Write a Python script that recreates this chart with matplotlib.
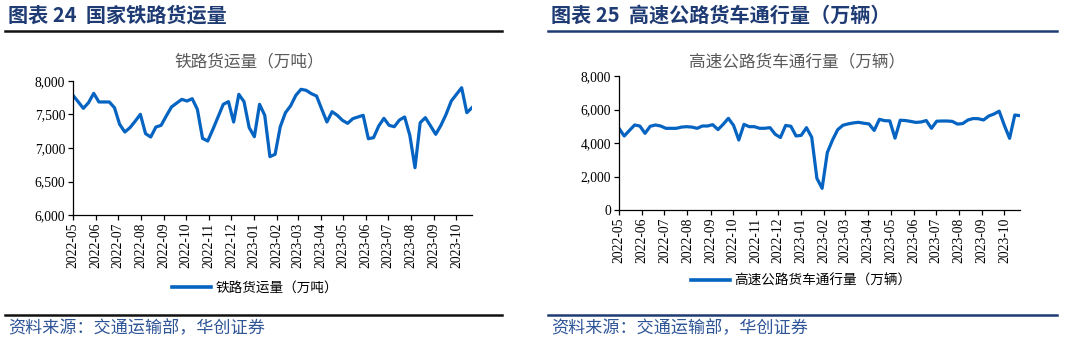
import matplotlib
matplotlib.use("Agg")
import matplotlib.pyplot as plt
from matplotlib.lines import Line2D
import pandas as pd

plt.rcParams['font.family'] = ['Noto Sans CJK SC', 'DejaVu Sans']

# weekly observations, first one dated 2022-05-06
dates = pd.date_range("2022-05-06", periods=78, freq="7D")
month_ticks = pd.date_range("2022-05-06", periods=18, freq=pd.DateOffset(months=1))

rail = [7786, 7690, 7592, 7677, 7816, 7687, 7687, 7687, 7602, 7353,
        7239, 7304, 7400, 7503, 7214, 7164, 7313, 7338, 7478, 7612,
        7670, 7726, 7701, 7736, 7577, 7144, 7104, 7279, 7465, 7652,
        7692, 7388, 7801, 7692, 7304, 7169, 7652, 7488, 6871, 6906,
        7318, 7527, 7630, 7786, 7876, 7861, 7811, 7776, 7580, 7388,
        7542, 7488, 7413, 7368, 7438, 7463, 7488, 7139, 7154, 7328,
        7443, 7338, 7318, 7418, 7463, 7189, 6706, 7378, 7453, 7330,
        7204, 7338, 7503, 7701, 7801, 7900, 7527, 7602]

truck = [4876, 4418, 4750, 5075, 5015, 4577, 5000, 5075, 5015, 4876,
         4876, 4876, 4950, 4975, 4950, 4876, 5015, 5015, 5094, 4800,
         5114, 5473, 5050, 4179, 5114, 4975, 4975, 4876, 4880, 4915,
         4520, 4330, 5050, 5000, 4418, 4460, 4915, 4350, 1890, 1294,
         3430, 4179, 4796, 5060, 5140, 5200, 5234, 5180, 5140, 4750,
         5413, 5333, 5320, 4290, 5360, 5340, 5290, 5230, 5254, 5340,
         4876, 5300, 5313, 5313, 5290, 5130, 5160, 5373, 5460, 5450,
         5373, 5612, 5731, 5900, 5050, 4278, 5671, 5632]

W, H = 1066, 342
BLUE = "#0563C1"
NAVY = "#1F3B73"
SERIF = "Liberation Serif"


def fx(px):
    return px / W


def fy(py):
    return 1 - py / H


fig = plt.figure(figsize=(W / 100, H / 100), dpi=100)
fig.patch.set_facecolor("white")


def panel(x0, x1, y_top, y_bot, values, ylim, yticks, inner_title, inner_x, legend_label,
          title, rule_color, rx0, rx1, legend_xy):
    ax = fig.add_axes([fx(x0), fy(y_bot), fx(x1 - x0), (y_bot - y_top) / H])
    ax.plot(dates, values, color=BLUE, lw=2.3, solid_joinstyle="round")
    ax.set_xlim(dates[0], dates[-1])
    ax.set_ylim(*ylim)
    ax.set_yticks(yticks)
    ax.set_yticklabels([f"{v:,}" for v in yticks], fontfamily=SERIF, fontsize=9.8)
    ax.set_xticks(month_ticks)
    ax.set_xticklabels([d.strftime("%Y-%m") for d in month_ticks], rotation=90,
                       fontfamily=SERIF, fontsize=9.8)
    for s in ("top", "right"):
        ax.spines[s].set_visible(False)
    for s in ("left", "bottom"):
        ax.spines[s].set_linewidth(0.9)
    ax.tick_params(axis="both", direction="out", length=3.5, width=0.9, pad=2)

    fig.text(fx(inner_x), fy(62), inner_title, ha="center", va="center",
             fontsize=12, color="#595959")
    handles = [Line2D([0], [0], color=BLUE, lw=2.6)]
    fig.legend(handles, [legend_label], loc="center",
               bbox_to_anchor=(fx(legend_xy[0]), fy(legend_xy[1])), frameon=False,
               fontsize=9.8, handlelength=2.9, handletextpad=0.3)

    # header and footer
    fig.text(fx(rx0 + 3), fy(15), title, ha="left", va="center", fontsize=14.5,
             fontweight="bold", color=NAVY)
    fig.add_artist(Line2D([fx(rx0), fx(rx1)], [fy(31), fy(31)], color=rule_color, lw=1.8))
    fig.add_artist(Line2D([fx(rx0), fx(rx1)], [fy(315), fy(315)], color=rule_color, lw=1.8))
    fig.text(fx(rx0 + 3), fy(328), "资料来源：交通运输部，华创证券", ha="left", va="center",
             fontsize=12.3, color="#2F5597", style="italic")
    return ax


panel(73, 472, 81, 215, rail, (6000, 8000), list(range(6000, 8001, 500)),
      "铁路货运量（万吨）", 249, "铁路货运量（万吨）", "图表 24  国家铁路货运量",
      "#111111", 5, 502, (255, 288))

panel(619, 1020, 76, 210, truck, (0, 8000), list(range(0, 8001, 2000)),
      "高速公路货车通行量（万辆）", 797, "高速公路货车通行量（万辆）",
      "图表 25  高速公路货车通行量（万辆）",
      NAVY, 548, 1057, (801, 281))

fig.savefig("out.png", dpi=100, facecolor="white")
